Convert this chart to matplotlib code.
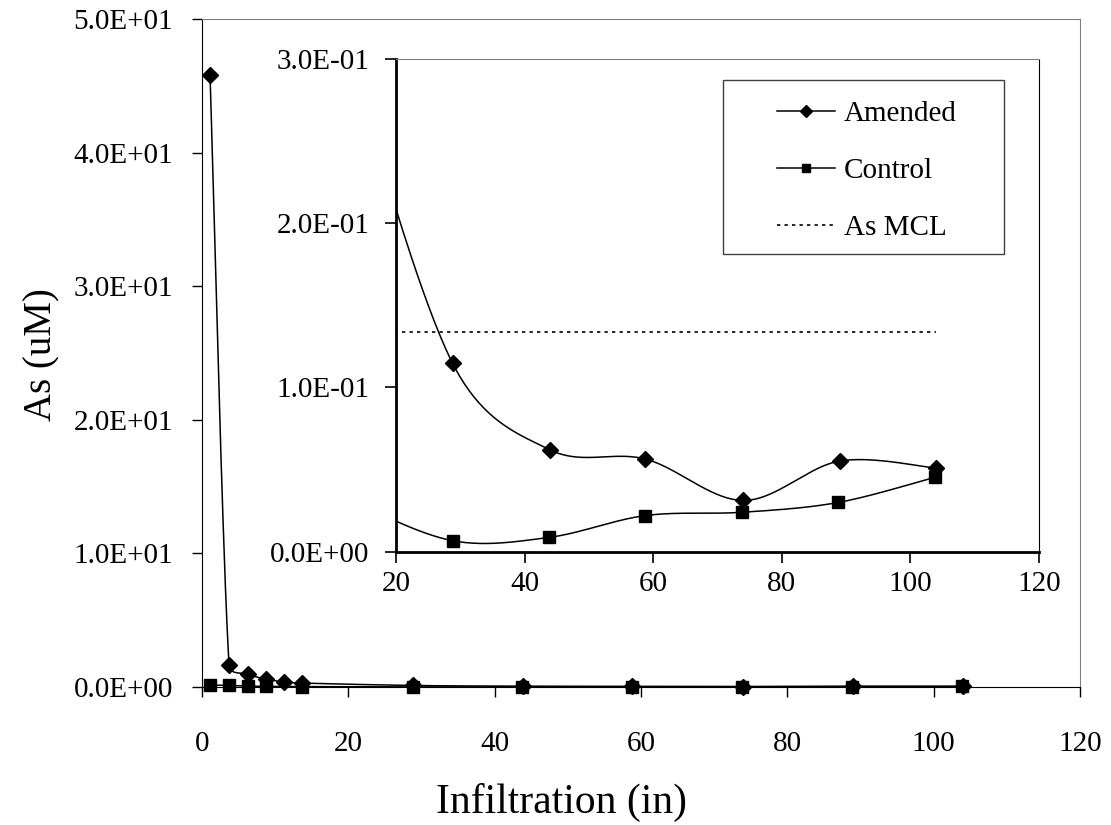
import numpy as np
import matplotlib
matplotlib.use("Agg")
import matplotlib.pyplot as plt
from matplotlib.patches import Rectangle
from matplotlib.ticker import FuncFormatter

plt.rcParams["font.family"] = ["Liberation Serif", "DejaVu Serif"]

# infiltration (in) and As (uM)
amended_x = [1.1, 3.7, 6.3, 8.7, 11.2, 13.7, 28.8, 43.9, 58.8, 74.0, 89.0, 104.0]
amended_y = [45.8, 1.65, 0.95, 0.6, 0.38, 0.295, 0.1147, 0.0621, 0.0564, 0.0312, 0.0552, 0.0509]
control_x = [1.1, 3.7, 6.3, 8.7, 13.7, 28.8, 43.8, 58.8, 73.8, 88.8, 103.9]
control_y = [0.15, 0.12, 0.06, 0.05, 0.031, 0.0067, 0.0087, 0.022, 0.024, 0.030, 0.0454]
mcl_x = [0, 104]
mcl_y = [0.1335, 0.1335]

W, H = 1111, 825
fig = plt.figure(figsize=(W / 100, H / 100), dpi=100)


def px_axes(l, r, b, t):
    return fig.add_axes([l / W, 1 - b / H, (r - l) / W, (b - t) / H])


def excel_smooth(ax, xs, ys, n=40):
    # Excel style bezier smoothing done in screen space
    pts = ax.transData.transform(np.column_stack([xs, ys]))
    out = [pts[0]]
    t = np.linspace(0, 1, n)[1:, None]
    for i in range(len(pts) - 1):
        p1, p2 = pts[i], pts[i + 1]
        p0 = pts[i - 1] if i > 0 else p1
        p3 = pts[i + 2] if i + 2 < len(pts) else p2
        d02 = np.hypot(*(p2 - p0))
        d12 = np.hypot(*(p2 - p1))
        d13 = np.hypot(*(p3 - p1))
        f = 1 / 6 if d02 / 6 < d12 / 2 else d12 / (2 * d02)
        g = 1 / 6 if d13 / 6 < d12 / 2 else d12 / (2 * d13)
        c1 = p1 + f * (p2 - p0)
        c2 = p2 - g * (p3 - p1)
        seg = (1 - t) ** 3 * p1 + 3 * (1 - t) ** 2 * t * c1 + 3 * (1 - t) * t ** 2 * c2 + t ** 3 * p2
        out.extend(seg)
    return ax.transData.inverted().transform(np.array(out))


sci = FuncFormatter(lambda v, p: "{:.1E}".format(v))
lw = 1.1

# main chart
ax = px_axes(202, 1080, 687, 19.3)
ax.set_xlim(0, 120)
ax.set_ylim(0, 50)
ax.set_xticks(np.arange(0, 121, 20))
ax.set_yticks(np.arange(0, 51, 10))
ax.yaxis.set_major_formatter(sci)
ax.tick_params(labelsize=21, length=7, width=1, direction="out")
ax.tick_params(axis="x", pad=25)
ax.tick_params(axis="y", pad=14)
for s in ["top", "right"]:
    ax.spines[s].set_color("#808080")
fig.text(562 / W, 1 - 802 / H, "Infiltration (in)", fontsize=30, ha="center", va="center")
fig.text(42 / W, 1 - 355 / H, "As (uM)", fontsize=28, ha="center", va="center", rotation=90)

for xs, ys, m, ms in [(amended_x, amended_y, "D", 8), (control_x, control_y, "s", 8.5)]:
    c = excel_smooth(ax, xs, ys)
    ax.plot(c[:, 0], c[:, 1], color="black", lw=lw, clip_on=False)
    ax.plot(xs, ys, ls="none", marker=m, ms=ms, color="black", clip_on=False)

# inset
ins = px_axes(396, 1039, 551.7, 59)
ins.set_xlim(20, 120)
ins.set_ylim(0, 0.3)
ins.set_xticks(np.arange(20, 121, 20))
ins.set_yticks([0, 0.1, 0.2, 0.3])
ins.yaxis.set_major_formatter(sci)
ins.tick_params(labelsize=21, length=8, width=1.2, direction="out")
ins.tick_params(axis="x", pad=6)
ins.tick_params(axis="y", pad=11)
ins.spines["left"].set_linewidth(2)
ins.spines["bottom"].set_linewidth(2)
ins.spines["top"].set_color("#808080")

c = excel_smooth(ins, amended_x, amended_y)
ins.plot(c[:, 0], c[:, 1], color="black", lw=lw)
ins.plot(amended_x, amended_y, ls="none", marker="D", ms=8, color="black")
c = excel_smooth(ins, control_x, control_y)
ins.plot(c[:, 0], c[:, 1], color="black", lw=lw)
ins.plot(control_x, control_y, ls="none", marker="s", ms=8.5, color="black")
ins.plot(mcl_x, mcl_y, color="black", lw=1.2, ls=(0, (2, 2.5)))

handles = [
    plt.Line2D([], [], color="black", lw=lw, marker="D", ms=6),
    plt.Line2D([], [], color="black", lw=lw, marker="s", ms=6),
    plt.Line2D([], [], color="black", lw=1.2, ls=(0, (2, 2.5))),
]
ins.legend(handles, ["Amended", "Control", "As MCL"], loc="upper left",
           bbox_to_anchor=(777 / W, 1 - 101 / H), bbox_transform=fig.transFigure,
           frameon=False, fontsize=21, borderpad=0, borderaxespad=0, handlelength=2.0,
           handletextpad=0.3, labelspacing=1.04)
ins.add_patch(Rectangle((723 / W, 1 - 254 / H), 281 / W, 174 / H, transform=fig.transFigure,
                        fill=False, edgecolor="#404040", lw=1, zorder=5))

fig.savefig("out.png", dpi=100)
